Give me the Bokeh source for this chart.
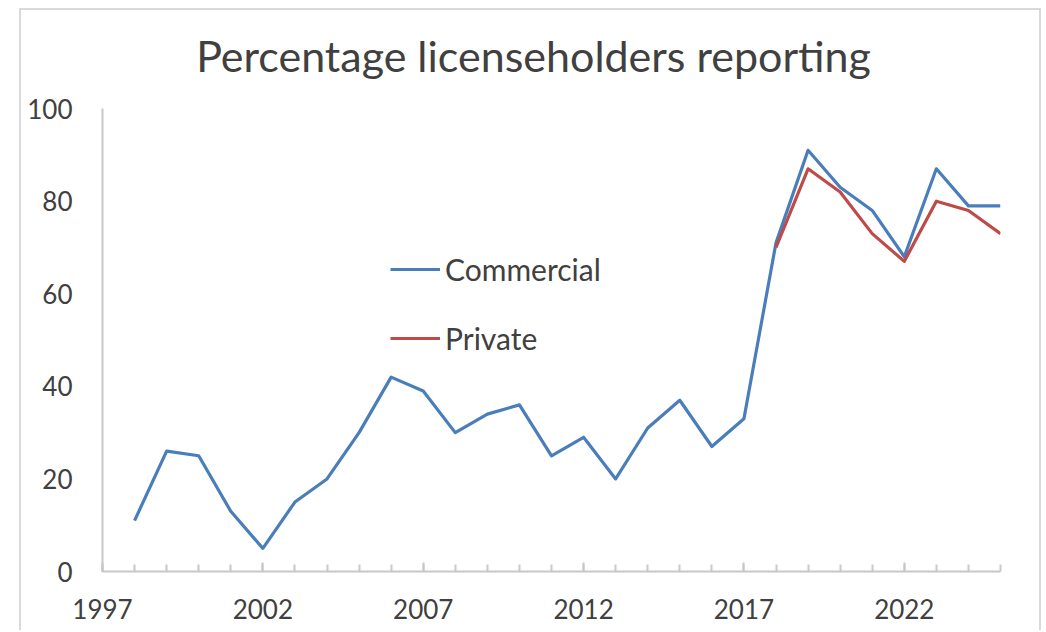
from bokeh.plotting import figure
from bokeh.models import Range1d, FixedTicker, Legend, LegendItem, Label
from bokeh.embed import file_html
from bokeh.resources import INLINE

# ---- data ----
years = list(range(1998, 2026))
commercial = [11, 26, 25, 13, 5, 15, 20, 30, 42, 39, 30, 34, 36, 25, 29, 20,
              31, 37, 27, 33, 71, 91, 83, 78, 68, 87, 79, 79]
private_years = list(range(2018, 2026))
private = [70, 87, 82, 73, 67, 80, 78, 73]
major_ticks = [1997, 2002, 2007, 2012, 2017, 2022]
minor_ticks = list(range(1997, 2026))
y_ticks = [0, 20, 40, 60, 80, 100]
title_text = "Percentage licenseholders reporting"

FONT = "Lato"
TXT = "#404040"
AXIS = "#c8c8c8"

# frame extends above the 0-100 axis so the title can sit inside it
Y_TOP = 121.2
p = figure(width=1022, height=622, output_backend="svg", toolbar_location=None,
           x_range=Range1d(1997, 2025), y_range=Range1d(0, Y_TOP),
           min_border_left=81, min_border_right=43, min_border_top=0,
           min_border_bottom=61)
p.margin = (8, 0, 0, 19)
p.styles = {"border-top": "2px solid #d9d9d9", "border-left": "2px solid #d9d9d9",
            "border-right": "2px solid #d9d9d9"}
p.background_fill_color = "white"
p.border_fill_color = "white"
p.outline_line_color = None
p.xgrid.visible = False
p.ygrid.visible = False

# x axis
xa = p.xaxis[0]
xa.ticker = FixedTicker(ticks=major_ticks, minor_ticks=minor_ticks)
xa.axis_line_color = AXIS
xa.axis_line_width = 2
xa.major_tick_line_color = AXIS
xa.minor_tick_line_color = AXIS
xa.major_tick_line_width = 2
xa.minor_tick_line_width = 2
xa.major_tick_in = 9
xa.major_tick_out = 0
xa.minor_tick_in = 7
xa.minor_tick_out = 0
xa.major_label_standoff = 27
xa.major_label_text_font = FONT
xa.major_label_text_font_size = "26px"
xa.major_label_text_color = TXT

# y axis
ya = p.yaxis[0]
ya.ticker = FixedTicker(ticks=y_ticks, minor_ticks=[])
ya.bounds = (0, 100)
ya.axis_line_color = AXIS
ya.axis_line_width = 2
ya.major_tick_line_color = None
ya.minor_tick_line_color = None
ya.major_tick_in = 0
ya.major_tick_out = 0
ya.major_label_standoff = 30
ya.major_label_text_font = FONT
ya.major_label_text_font_size = "26px"
ya.major_label_text_color = TXT

r1 = p.line(years, commercial, line_color="#4A7EBB", line_width=3.2, line_join="round")
r2 = p.line(private_years, private, line_color="#BE4B48", line_width=3.2, line_join="round")

legend = Legend(items=[LegendItem(label="Commercial", renderers=[r1]),
                       LegendItem(label="Private", renderers=[r2])],
                location=(288, 215), orientation="vertical",
                glyph_width=50, glyph_height=20, label_standoff=5,
                spacing=33, padding=0, margin=0,
                border_line_color=None, background_fill_alpha=0,
                label_text_font=FONT, label_text_font_size="30px",
                label_text_color=TXT)
p.add_layout(legend, "center")

# chart title, centred over the whole chart box
title = Label(x=2010.44, y=111.4, text=title_text,
              text_align="center", text_baseline="alphabetic",
              text_font=FONT, text_font_size="43px", text_color=TXT)
p.add_layout(title)

open("out.html", "w").write(file_html(p, INLINE))
